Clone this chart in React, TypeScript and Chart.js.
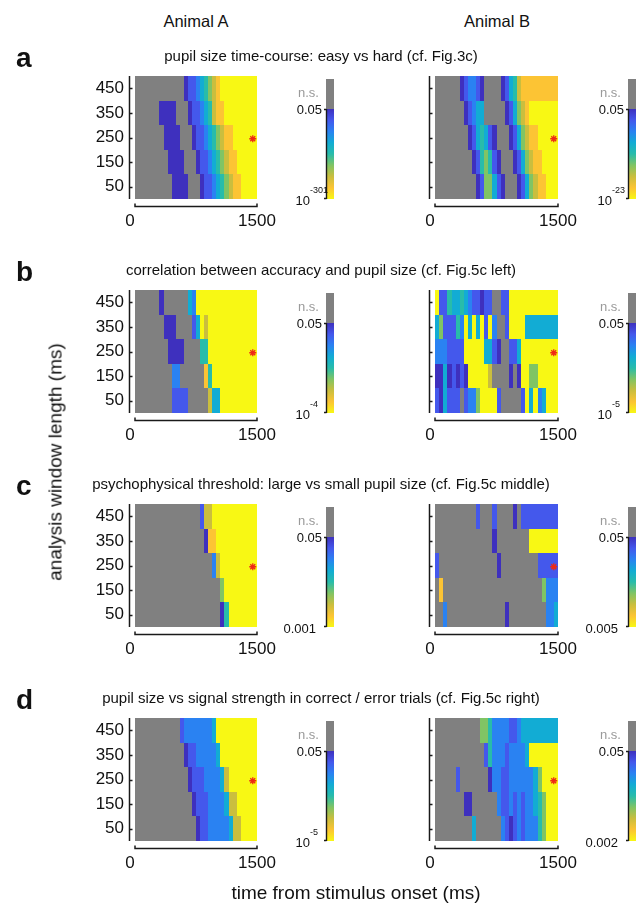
import React, { useEffect, useRef } from "react";
import { Chart, registerables } from "chart.js";
Chart.register(...registerables);

// ---------------- data ----------------
// row centres (analysis window length, ms), listed top to bottom
const WINDOW_ROWS = [450, 350, 250, 150, 50];
const ROW_HALF = 50;
const Y_TICKS = [50, 150, 250, 350, 450];
const X_TICKS = [0, 1500];
const T_START = 60; // start of first time bin (ms)
const T_END = 1500; // end of last time bin (ms)
const N_BINS = 30;

// significance level per time bin: 0 = n.s. (gray), 1 = p just below 0.05 (dark blue) ... 9 = smallest p (yellow)
const A_PUPIL_EASY_HARD = [
  "000000000000122345678999999999",
  "000000111100012234578899999999",
  "000000011110001223456788999999",
  "000000001111000122345678899999",
  "000000000111100012234567889999",
];
const B_PUPIL_EASY_HARD = [
  "000000123321000012457888888888",
  "000000012344000001246789999999",
  "000000001245421000124678899999",
  "000000000125652100012467889999",
  "000000000012664210001246788999",
];
const A_ACCURACY_PUPIL = [
  "000000100000043999999999999999",
  "000000011100002497999999999999",
  "000000001111000055999999999999",
  "000000000330000008599999999999",
  "000000000222200000744999999999",
];
const B_ACCURACY_PUPIL = [
  "922544543221220022999999999999",
  "462225394949293002999944444444",
  "333222299999442100224999999999",
  "114121219999970000101996699999",
  "214222023369999200000294934999",
];
const A_THRESHOLD = [
  "000000000000000027799999999999",
  "000000000000000001889999999999",
  "000000000000000000037999999999",
  "000000000000000000000699999999",
  "000000000000000000000159999999",
];
const B_THRESHOLD = [
  "000000000020002000010222222222",
  "000000000000001000000009999999",
  "200000000000000100000000022222",
  "080000000000000000000000006333",
  "003000000000000001000000000334",
];
const A_SIGNAL_STRENGTH = [
  "000000000002333333349999999999",
  "000000000000122333334999999999",
  "000000000000012223333479999999",
  "000000000000001222333347799999",
  "000000000000000122333334779999",
];
const B_SIGNAL_STRENGTH = [
  "000000000006653333223444444444",
  "000000000000253332333349999999",
  "000002000000013322333333469999",
  "000000011000000322323233456999",
  "000000000400000032123233356999",
];

const STAR_POINT = [{ x: 1450, y: 245 }];

const COLUMN_TITLES = ["Animal A", "Animal B"];
const PANEL_LETTERS = ["a", "b", "c", "d"];
const PANEL_TITLES = [
  "pupil size time-course: easy vs hard (cf. Fig.3c)",
  "correlation between accuracy and pupil size (cf. Fig.5c left)",
  "psychophysical threshold: large vs small pupil size (cf. Fig.5c middle)",
  "pupil size vs signal strength in correct / error trials (cf. Fig.5c right)",
];
const CB_TOP_LABELS = ["n.s.", "0.05"];
// [base, exponent]
const CB_BOTTOM_LABELS: [string, string][][] = [
  [["10", "-301"], ["10", "-23"]],
  [["10", "-4"], ["10", "-5"]],
  [["0.001", ""], ["0.005", ""]],
  [["10", "-5"], ["0.002", ""]],
];
const X_LABEL = "time from stimulus onset (ms)";
const Y_LABEL = "analysis window length (ms)";

const PANEL_DATA = [
  [A_PUPIL_EASY_HARD, B_PUPIL_EASY_HARD],
  [A_ACCURACY_PUPIL, B_ACCURACY_PUPIL],
  [A_THRESHOLD, B_THRESHOLD],
  [A_SIGNAL_STRENGTH, B_SIGNAL_STRENGTH],
];

// ---------------- styles ----------------
const FONT = '"Liberation Sans", Arial, Helvetica, sans-serif';
const GRAY = "rgb(128,128,128)";
const PALETTE = [
  "rgb(62,48,190)",
  "rgb(68,88,236)",
  "rgb(42,130,242)",
  "rgb(18,172,212)",
  "rgb(40,188,170)",
  "rgb(128,196,100)",
  "rgb(202,190,62)",
  "rgb(252,196,52)",
  "rgb(248,248,20)",
];
const ROW_TOPS = [76, 290, 504, 718];
const AREA_H = 123;
const PAD_TOP = 24;
const X_SCALE_H = 45;
const Y_SCALE_W = 130;
const CANVAS_W = 342;
const CANVAS_H = PAD_TOP + AREA_H + X_SCALE_H;
const COLS = [
  { canvasLeft: 0, areaRight: 257, cbLeft: 326 },
  { canvasLeft: 300, areaRight: 558, cbLeft: 628 },
];

function heatPlugin(rows: string[], cbLeftAbs: number, canvasLeft: number) {
  return {
    id: "heat",
    beforeDatasetsDraw(chart: any) {
      const { ctx, scales } = chart;
      const x = scales.x;
      const y = scales.y;
      const binW = (T_END - T_START) / N_BINS;
      ctx.save();
      rows.forEach((row, r) => {
        const yc = WINDOW_ROWS[r];
        const yTop = Math.round(y.getPixelForValue(yc + ROW_HALF));
        const yBot = Math.round(y.getPixelForValue(yc - ROW_HALF));
        for (let b = 0; b < N_BINS; b++) {
          const lvl = Number(row[b]);
          const x0 = Math.round(x.getPixelForValue(T_START + b * binW));
          const x1 = Math.round(x.getPixelForValue(T_START + (b + 1) * binW));
          ctx.fillStyle = lvl === 0 ? GRAY : PALETTE[lvl - 1];
          ctx.fillRect(x0, yTop, x1 - x0, yBot - yTop);
        }
      });
      ctx.restore();
    },
    afterDraw(chart: any) {
      const { ctx, chartArea, scales } = chart;
      const x = scales.x;
      const y = scales.y;
      ctx.save();
      ctx.strokeStyle = "#1a1a1a";
      ctx.lineWidth = 1.5;
      // y axis line + inward ticks
      const ax = chartArea.left - 0.5;
      ctx.beginPath();
      ctx.moveTo(ax, chartArea.top);
      ctx.lineTo(ax, chartArea.bottom);
      Y_TICKS.forEach((v) => {
        const py = Math.round(y.getPixelForValue(v)) + 0.5;
        ctx.moveTo(ax, py);
        ctx.lineTo(ax + 3, py);
      });
      ctx.stroke();
      // x axis line (offset below) + inward ticks
      const ay = chartArea.bottom + 7.5;
      const xa = Math.round(x.getPixelForValue(T_START));
      const xb = Math.round(x.getPixelForValue(T_END));
      ctx.beginPath();
      ctx.moveTo(xa, ay - 3);
      ctx.lineTo(xa, ay);
      ctx.lineTo(xb, ay);
      ctx.lineTo(xb, ay - 3);
      ctx.stroke();
      // colour bar
      const cbL = cbLeftAbs - canvasLeft;
      const cbW = 8;
      const bottom = chartArea.bottom;
      const gradTop = bottom - 90;
      const grayTop = bottom - 120;
      ctx.fillStyle = GRAY;
      ctx.fillRect(cbL, grayTop, cbW, gradTop - grayTop);
      const g = ctx.createLinearGradient(0, gradTop, 0, bottom);
      PALETTE.forEach((c, i) => g.addColorStop(i / (PALETTE.length - 1), c));
      ctx.fillStyle = g;
      ctx.fillRect(cbL, gradTop, cbW, bottom - gradTop);
      ctx.lineWidth = 1.4;
      ctx.beginPath();
      ctx.moveTo(cbL + 0.5, gradTop);
      ctx.lineTo(cbL + 0.5, bottom);
      ctx.moveTo(cbL - 2, gradTop + 0.5);
      ctx.lineTo(cbL + 0.5, gradTop + 0.5);
      ctx.moveTo(cbL - 2, bottom - 0.5);
      ctx.lineTo(cbL + 0.5, bottom - 0.5);
      ctx.stroke();
      ctx.restore();
    },
  };
}

function Heatmap({ rows, row, col }: { rows: string[]; row: number; col: number }) {
  const ref = useRef<HTMLCanvasElement>(null);
  const c = COLS[col];
  useEffect(() => {
    const canvas = ref.current!;
    const chart = new Chart(canvas, {
      type: "scatter",
      data: {
        datasets: [
          {
            data: STAR_POINT,
            pointStyle: "star",
            radius: 3.5,
            borderColor: "#ee2a14",
            backgroundColor: "#ee2a14",
            borderWidth: 1.3,
          },
        ],
      },
      options: {
        responsive: false,
        animation: false,
        devicePixelRatio: 1,
        events: [],
        layout: {
          padding: { top: PAD_TOP, right: c.canvasLeft + CANVAS_W - c.areaRight, left: 0, bottom: 0 },
        },
        plugins: { legend: { display: false }, tooltip: { enabled: false } },
        scales: {
          x: {
            type: "linear",
            min: 0,
            max: 1500,
            afterBuildTicks: (s: any) => {
              s.ticks = X_TICKS.map((v) => ({ value: v }));
            },
            afterFit: (s: any) => {
              s.height = X_SCALE_H;
            },
            grid: { display: false, drawTicks: false },
            border: { display: false },
            ticks: {
              font: { size: 17, family: FONT },
              color: "#111",
              padding: 12,
              maxRotation: 0,
              autoSkip: false,
              callback: (v: any) => String(v),
            },
          },
          y: {
            type: "linear",
            min: 0,
            max: 500,
            afterBuildTicks: (s: any) => {
              s.ticks = Y_TICKS.map((v) => ({ value: v }));
            },
            afterFit: (s: any) => {
              s.width = Y_SCALE_W;
            },
            grid: { display: false, drawTicks: false },
            border: { display: false },
            ticks: {
              display: col === 0,
              font: { size: 17, family: FONT },
              color: "#111",
              padding: 6,
              autoSkip: false,
              callback: (v: any) => String(v),
            },
          },
        },
      },
      plugins: [heatPlugin(rows, c.cbLeft, c.canvasLeft)],
    } as any);
    return () => chart.destroy();
  }, []);
  return (
    <canvas
      ref={ref}
      width={CANVAS_W}
      height={CANVAS_H}
      style={{ position: "absolute", left: c.canvasLeft, top: ROW_TOPS[row] - PAD_TOP, width: CANVAS_W, height: CANVAS_H }}
    />
  );
}

// text placed by baseline
function Txt({
  x,
  base,
  size,
  align = "center",
  color = "#111",
  bold = false,
  children,
}: {
  x: number;
  base: number;
  size: number;
  align?: "left" | "center" | "right";
  color?: string;
  bold?: boolean;
  children: any;
}) {
  const top = base - 0.8465 * size;
  const style: any = {
    position: "absolute",
    top,
    fontSize: size,
    lineHeight: `${size}px`,
    fontFamily: FONT,
    fontWeight: bold ? "bold" : "normal",
    color,
    whiteSpace: "nowrap",
  };
  if (align === "left") style.left = x;
  else if (align === "right") style.right = 642 - x;
  else {
    style.left = x;
    style.transform = "translateX(-50%)";
  }
  return <div style={style}>{children}</div>;
}

export default function App() {
  const items: any[] = [];
  PANEL_DATA.forEach((pair, r) => {
    const top = ROW_TOPS[r];
    const bottom = top + AREA_H;
    pair.forEach((rows, col) => {
      items.push(<Heatmap key={`h${r}${col}`} rows={rows} row={r} col={col} />);
      const cb = COLS[col].cbLeft;
      items.push(
        <Txt key={`ns${r}${col}`} x={cb - 7} base={bottom - 105 + 3.4} size={13} align="right" color="#9a9a9a">
          {CB_TOP_LABELS[0]}
        </Txt>
      );
      items.push(
        <Txt key={`p${r}${col}`} x={cb - 4} base={bottom - 90 + 4.7} size={13} align="right">
          {CB_TOP_LABELS[1]}
        </Txt>
      );
      const [base, exp] = CB_BOTTOM_LABELS[r][col];
      if (exp) {
        items.push(
          <Txt key={`bl${r}${col}`} x={cb - 16} base={bottom + 1.5 + 4.7} size={13} align="right">
            {base}
          </Txt>
        );
        items.push(
          <Txt key={`be${r}${col}`} x={cb - 16} base={bottom - 5} size={9} align="left">
            {exp}
          </Txt>
        );
      } else {
        items.push(
          <Txt key={`bl${r}${col}`} x={cb - 10} base={bottom + 1.5 + 4.7} size={13} align="right">
            {base}
          </Txt>
        );
      }
    });
    items.push(
      <Txt key={`l${r}`} x={16} base={68 + 213.9 * r} size={28} align="left" bold>
        {PANEL_LETTERS[r]}
      </Txt>
    );
    items.push(
      <Txt key={`t${r}`} x={321} base={61 + 213.9 * r} size={15}>
        {PANEL_TITLES[r]}
      </Txt>
    );
  });
  return (
    <div style={{ position: "absolute", left: 0, top: 0, width: 642, height: 905, background: "#fff", overflow: "hidden" }}>
      <Txt x={196} base={27} size={16.5}>
        {COLUMN_TITLES[0]}
      </Txt>
      <Txt x={497} base={27} size={16.5}>
        {COLUMN_TITLES[1]}
      </Txt>
      {items}
      <Txt x={356} base={899} size={19}>
        {X_LABEL}
      </Txt>
      <div
        style={{
          position: "absolute",
          left: 55,
          top: 462,
          transform: "translate(-50%, -50%) rotate(-90deg)",
          fontSize: 19,
          lineHeight: "19px",
          fontFamily: FONT,
          color: "#111",
          whiteSpace: "nowrap",
        }}
      >
        {Y_LABEL}
      </div>
    </div>
  );
}
